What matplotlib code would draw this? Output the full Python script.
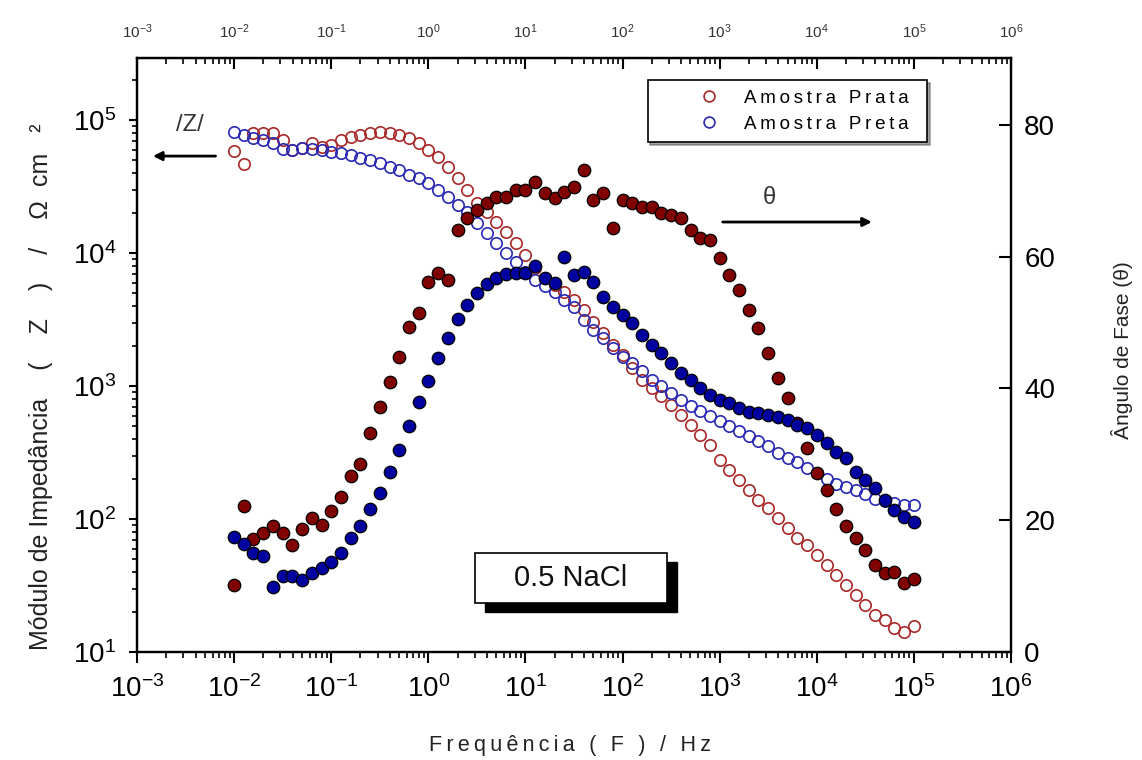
import matplotlib.pyplot as plt
from matplotlib.patches import Rectangle
from matplotlib.ticker import LogLocator, NullFormatter, MultipleLocator

plt.rcParams['font.family'] = ['Liberation Sans', 'DejaVu Sans']
plt.rcParams['mathtext.fontset'] = 'custom'
plt.rcParams['mathtext.rm'] = 'Liberation Sans'
plt.rcParams['mathtext.it'] = 'Liberation Sans:italic'

# frequency sweep (Hz)
freq = [0.01, 0.0126, 0.0158, 0.02, 0.0251, 0.0316, 0.0398, 0.0501, 0.0631, 0.0794,
        0.1, 0.126, 0.158, 0.2, 0.251, 0.316, 0.398, 0.501, 0.631, 0.794,
        1, 1.26, 1.58, 2, 2.51, 3.16, 3.98, 5.01, 6.31, 7.94,
        10, 12.6, 15.8, 20, 25.1, 31.6, 39.8, 50.1, 63.1, 79.4,
        100, 126, 158, 200, 251, 316, 398, 501, 631, 794,
        1000, 1260, 1580, 2000, 2510, 3160, 3980, 5010, 6310, 7940,
        10000, 12600, 15800, 20000, 25100, 31600, 39800, 50100, 63100, 79400,
        100000]

# |Z| (ohm cm2)
z_prata = [59000, 46700, 79800, 79800, 79800, 70800, 59500, 61500, 67100, 62700,
           64900, 70800, 74500, 77100, 79800, 81300, 79800, 77100, 73200, 67100,
           59500, 52700, 44300, 36600, 29800, 23800, 20300, 17100, 14400, 11900,
           9660, 7710, 6490, 5750, 5090, 4430, 3730, 3030, 2500, 2030,
           1710, 1370, 1110, 966, 841, 720, 605, 509, 428, 360,
           278, 234, 196, 165, 139, 121, 102, 85.5, 72, 63.8,
           53.6, 45.1, 37.9, 31.9, 26.8, 22.6, 19.0, 17.4, 15.1, 14.1,
           15.7]
z_preta = [81300, 77100, 73200, 70800, 67100, 60500, 59500, 61500, 60500, 59500,
           57400, 56500, 54600, 51800, 50000, 47500, 44300, 42100, 38600, 36600,
           33600, 29800, 26400, 22900, 20300, 16800, 14100, 11900, 10000, 8560,
           7200, 6270, 5650, 5090, 4430, 3930, 3130, 2640, 2300, 1930,
           1650, 1490, 1300, 1110, 1000, 886, 785, 708, 649, 595,
           546, 500, 459, 421, 386, 354, 313, 288, 268, 242,
           222, 200, 183, 174, 165, 154, 141, 137, 132, 127,
           127]

# phase angle (degrees)
fase_prata = [10.2, 22.2, 17.1, 18.1, 19.1, 18.1, 16.2, 18.7, 20.3, 19.3,
              21.4, 23.5, 26.7, 28.5, 33.2, 37.2, 41.0, 44.8, 49.3, 51.4,
              56.1, 57.5, 56.4, 64.0, 65.9, 67.1, 68.1, 69.0, 69.0, 70.1,
              70.1, 71.3, 69.7, 68.9, 69.8, 70.6, 73.1, 68.6, 69.7, 64.3,
              68.6, 68.1, 67.5, 67.5, 66.6, 66.3, 65.9, 64.0, 62.8, 62.5,
              59.8, 57.2, 54.9, 51.9, 49.2, 45.4, 41.6, 38.5, 34.7, 31.0,
              27.2, 24.6, 21.7, 19.1, 17.3, 15.5, 13.2, 12.0, 12.1, 10.5,
              11.1]
fase_preta = [17.5, 16.4, 15.0, 14.6, 9.9, 11.5, 11.5, 10.9, 12.0, 12.7,
              13.7, 15.0, 17.3, 19.1, 21.7, 24.1, 27.3, 30.7, 34.3, 37.9,
              41.1, 44.6, 47.6, 50.5, 52.7, 54.5, 55.8, 56.8, 57.4, 57.5,
              57.5, 58.6, 56.8, 56.0, 59.9, 57.2, 57.7, 56.1, 53.9, 52.4,
              51.1, 49.9, 48.1, 46.6, 45.4, 43.9, 42.4, 41.3, 40.1, 39.0,
              38.2, 37.8, 37.0, 36.4, 36.3, 36.0, 35.7, 35.2, 34.4, 34.0,
              32.9, 31.7, 30.3, 29.4, 27.3, 26.1, 24.9, 23.1, 21.5, 20.5,
              19.7]

RED_OPEN = '#a82828'
BLUE_OPEN = '#2828b4'
RED_FILL = '#800000'
BLUE_FILL = '#0000a0'
TXT = '#222222'


def spaced(s):
    return '\u2009'.join(s)


fig = plt.figure(figsize=(11.42, 7.6), dpi=100)
ax = fig.add_axes([0.12, 0.142, 0.7653, 0.7816])

h1, = ax.plot(freq, z_prata, 'o', ms=8.2, mfc='none', mec=RED_OPEN, mew=1.2)
h2, = ax.plot(freq, z_preta, 'o', ms=8.2, mfc='none', mec=BLUE_OPEN, mew=1.2)

ax.set_xscale('log')
ax.set_yscale('log')
ax.set_xlim(1e-3, 1e6)
ax.set_ylim(10, 2.93e5)
ax.xaxis.set_major_locator(LogLocator(base=10, numticks=20))
ax.xaxis.set_minor_locator(LogLocator(base=10, subs=range(2, 10), numticks=20))
ax.xaxis.set_minor_formatter(NullFormatter())

ax.tick_params(axis='x', which='major', direction='out', length=8, width=1.5, labelsize=20, pad=9)
ax.tick_params(axis='x', which='minor', direction='out', length=4, width=1.2)
ax.tick_params(axis='y', which='major', direction='out', length=6, width=1.5, labelsize=20, pad=9)
ax.tick_params(axis='y', which='minor', direction='out', length=3.5, width=1.2)
for sp in ax.spines.values():
    sp.set_linewidth(1.6)

# axis titles
fig.text(570 / 1142, 1 - 745 / 760, spaced('Frequência ( F ) / Hz'), fontsize=15.5,
         ha='center', va='center', color=TXT)
fig.text(41 / 1142, 1 - 387 / 760, 'Módulo de Impedância    (    Z    )    /    Ω  cm   ²',
         fontsize=18, rotation=90, ha='center', va='center', color=TXT)
fig.text(1122 / 1142, 1 - 350 / 760, 'Ângulo de Fase (θ)', fontsize=15, rotation=90,
         ha='center', va='center', color=TXT)

# top axis
top = ax.secondary_xaxis('top')
top.tick_params(axis='x', which='major', direction='in', length=8, width=1.5, labelsize=11, pad=12,
                labelcolor='#333333')
top.tick_params(axis='x', which='minor', direction='in', length=4, width=1.2)
top.xaxis.set_major_locator(LogLocator(base=10, numticks=20))
top.xaxis.set_minor_locator(LogLocator(base=10, subs=range(2, 10), numticks=20))
top.xaxis.set_minor_formatter(NullFormatter())

# phase axis
ax2 = ax.twinx()
ax2.plot(freq, fase_prata, 'o', ms=9, mfc=RED_FILL, mec='black', mew=0.9)
ax2.plot(freq, fase_preta, 'o', ms=9, mfc=BLUE_FILL, mec='black', mew=0.9)
ax2.set_ylim(0, 90.1)
ax2.yaxis.set_major_locator(MultipleLocator(20))
ax2.tick_params(axis='y', direction='in', length=9, width=1.5, labelsize=20, pad=9.5)
for sp in ax2.spines.values():
    sp.set_linewidth(1.6)

leg = ax2.legend([h1, h2], [spaced('Amostra Prata') + '\u2009 ', spaced('Amostra Preta') + '\u2009 '],
                 loc='upper right', bbox_to_anchor=(0.904, 0.963), fontsize=13.5, frameon=True,
                 fancybox=False, shadow=True, edgecolor='black', borderpad=0.5,
                 handlelength=5.55, handletextpad=-0.91, labelspacing=0.5, markerscale=0.95,
                 borderaxespad=0)
leg.get_frame().set_linewidth(1.2)
leg.set_zorder(20)

# annotations
ax2.text(0.061, 0.887, '/Z/', transform=ax.transAxes, fontsize=17, color='#333333',
         ha='center', va='center')
ax2.annotate('', xy=(0.015, 0.835), xytext=(0.093, 0.835), xycoords='axes fraction',
             arrowprops=dict(arrowstyle='-|>', color='black', lw=2, mutation_scale=13))
ax2.text(0.724, 0.764, 'θ', transform=ax.transAxes, fontsize=17, color='#333333',
         ha='center', va='center')
ax2.annotate('', xy=(0.844, 0.724), xytext=(0.667, 0.724), xycoords='axes fraction',
             arrowprops=dict(arrowstyle='-|>', color='black', lw=2, mutation_scale=13))

# 0.5 NaCl box with shadow
bx, by, bw, bh = 0.3867, 0.0825, 0.2197, 0.0842
ax2.add_patch(Rectangle((bx + 10 / 874, by - 9 / 594), bw, bh, transform=ax.transAxes,
                        fc='black', ec='black', zorder=15, clip_on=False))
ax2.add_patch(Rectangle((bx, by), bw, bh, transform=ax.transAxes,
                        fc='white', ec='black', lw=1.2, zorder=16, clip_on=False))
ax2.text(bx + bw / 2, by + bh / 2, '0.5 NaCl', transform=ax.transAxes, fontsize=21,
         ha='center', va='center', color='#111111', zorder=17)

fig.savefig('out.png', dpi=100)
